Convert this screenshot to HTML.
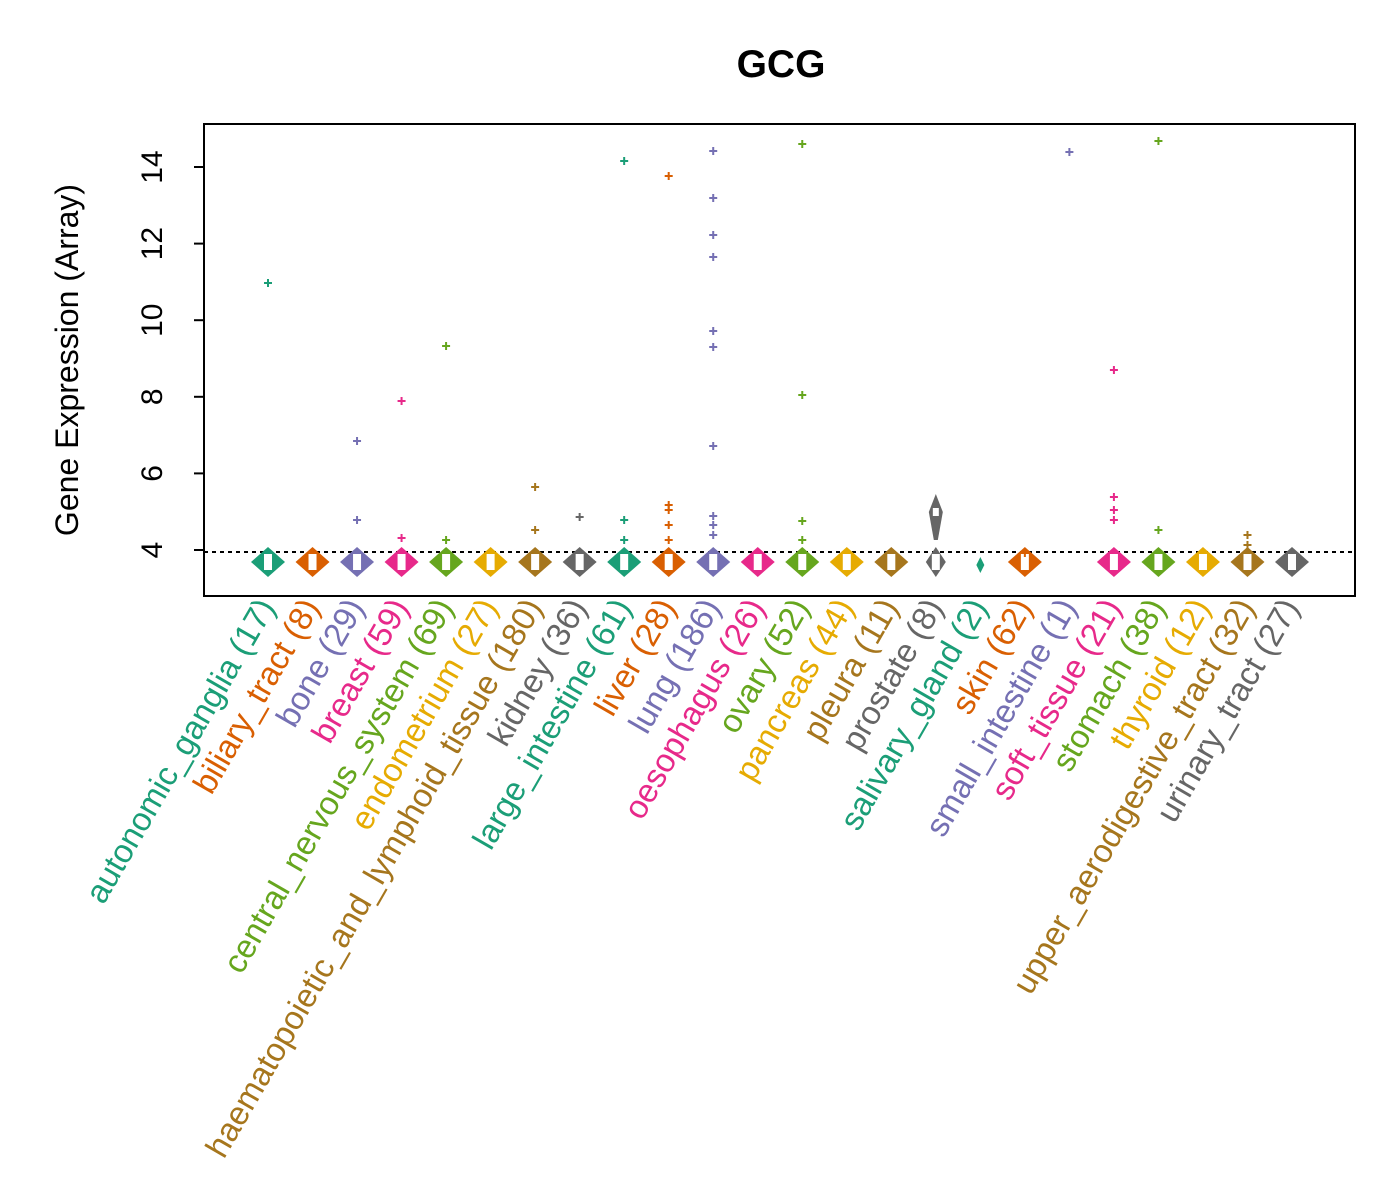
<!DOCTYPE html>
<html><head><meta charset="utf-8"><style>body{margin:0;background:#fff}svg{display:block}</style></head><body>
<svg id="s" width="1400" height="1200" xmlns="http://www.w3.org/2000/svg" font-family="Liberation Sans, sans-serif">
<rect width="1400" height="1200" fill="#fff"/>
<text x="781" y="77" font-size="39" font-weight="bold" text-anchor="middle">GCG</text>
<text transform="translate(78,360) rotate(-90)" font-size="32" text-anchor="middle">Gene Expression (Array)</text>
<g id="ax" stroke="#000" stroke-width="2" fill="none">
<rect x="204" y="124" width="1151" height="472"/>
</g>
<line x1="204" y1="552" x2="1355" y2="552" stroke="#000" stroke-width="2" stroke-dasharray="4,4"/>
<g id="g"></g>
</svg>
<script>
var ns="http://www.w3.org/2000/svg",s=document.getElementById("s"),g=document.getElementById("g");
function el(t,a,p){var e=document.createElementNS(ns,t);for(var k in a)e.setAttribute(k,a[k]);(p||g).appendChild(e);return e;}
function Y(v){return 550-(v-4)*38.3;}
[4,6,8,10,12,14].forEach(function(v){var y=Y(v);el("line",{x1:194,x2:204,y1:y,y2:y,stroke:"#000","stroke-width":2});
var t=el("text",{transform:"translate(162,"+y+") rotate(-90)","font-size":30,"text-anchor":"middle"});t.textContent=v;});
var C=["#1B9E77","#D95F02","#7570B3","#E7298A","#66A61E","#E6AB02","#A6761D","#666666"];
var names=["autonomic_ganglia (17)","biliary_tract (8)","bone (29)","breast (59)","central_nervous_system (69)","endometrium (27)","haematopoietic_and_lymphoid_tissue (180)","kidney (36)","large_intestine (61)","liver (28)","lung (186)","oesophagus (26)","ovary (52)","pancreas (44)","pleura (11)","prostate (8)","salivary_gland (2)","skin (62)","small_intestine (1)","soft_tissue (21)","stomach (38)","thyroid (12)","upper_aerodigestive_tract (32)","urinary_tract (27)"];
var out={0:[283],2:[441,520],3:[401,538],4:[346,540],6:[487,530],7:[517],8:[161,520,540],9:[176,505,510,525,540],10:[151,198,235,257,331,347,446,516,525,535],12:[144,395,521,540],17:[553],18:[152],19:[370,497,510,520],20:[141,530],22:[535,545]};
var n=names.length;
for(var i=0;i<n;i++){
 var x=268+i*(1292-268)/(n-1),c=C[i%8],w=17,h=15,cy=562;
 if(i==16){w=4;h=8;cy=565;}
 if(i==15){el("path",{d:"M"+x+" 494 L"+(x+7)+" 512 L"+(x+2)+" 540 L"+(x-2)+" 540 L"+(x-7)+" 512Z",fill:c});
  el("rect",{x:x-3,y:508,width:6,height:8,fill:"#fff"});w=10;}
 if(i!=18){
 el("path",{d:"M"+x+" "+(cy-h)+" L"+(x+w)+" "+cy+" L"+x+" "+(cy+h)+" L"+(x-w)+" "+cy+"Z",fill:c});
 if(i!=16)el("rect",{x:x-4,y:cy-8,width:8,height:16,fill:"#fff"});
 }
 (out[i]||[]).forEach(function(y){el("path",{d:"M"+(x-4)+" "+y+"h8M"+x+" "+(y-4)+"v8",stroke:c,"stroke-width":2});});
 var t=el("text",{transform:"translate("+(x+8)+",607) rotate(-60)","font-size":33,"text-anchor":"end",fill:c});t.textContent=names[i];
}
</script>
</body></html>
